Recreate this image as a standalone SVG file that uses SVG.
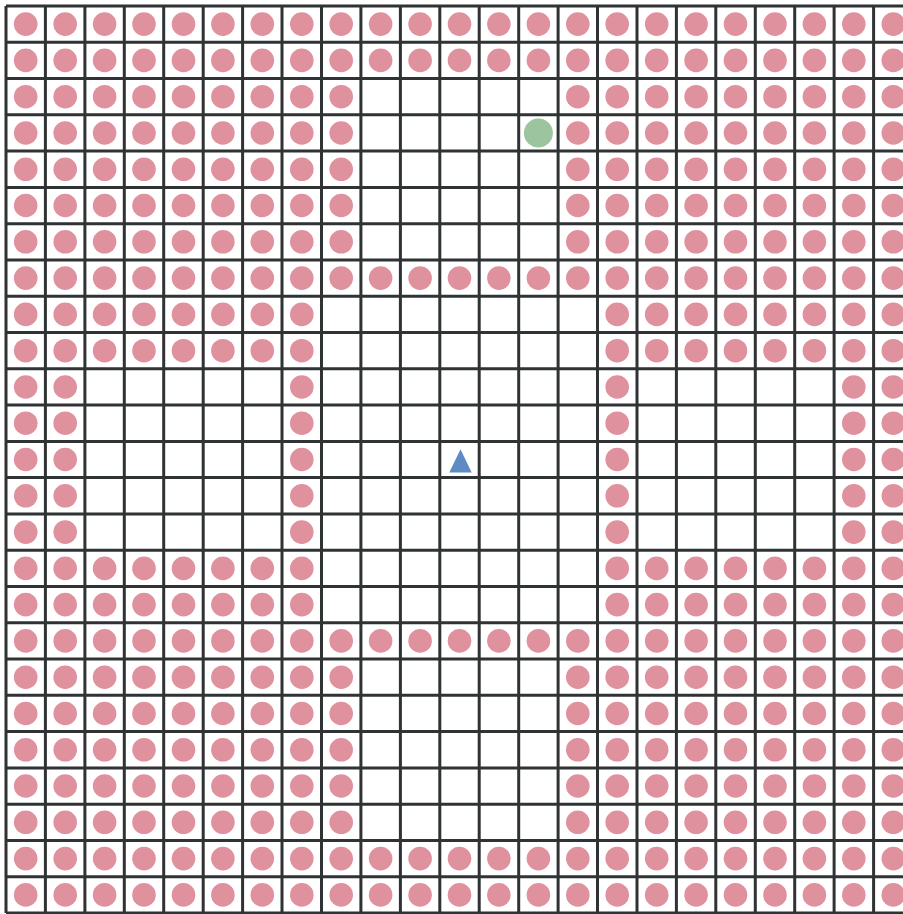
<svg xmlns="http://www.w3.org/2000/svg" xmlns:xlink="http://www.w3.org/1999/xlink" width="903" height="914" viewBox="0 0 903 914">
<style>
.pk{fill:#e0919e}
.grid{stroke:#2f3333;stroke-width:3;fill:none}
</style>
<defs>
<circle id="d" r="11.8" class="pk"/>
<g id="left9">
<use xlink:href="#d" x="25.7"/><use xlink:href="#d" x="65.2"/><use xlink:href="#d" x="104.6"/><use xlink:href="#d" x="144.0"/><use xlink:href="#d" x="183.5"/><use xlink:href="#d" x="222.9"/><use xlink:href="#d" x="262.3"/><use xlink:href="#d" x="301.8"/>
</g>
<g id="right8">
<use xlink:href="#d" x="617.2"/><use xlink:href="#d" x="656.7"/><use xlink:href="#d" x="696.1"/><use xlink:href="#d" x="735.5"/><use xlink:href="#d" x="775.0"/><use xlink:href="#d" x="814.4"/><use xlink:href="#d" x="853.8"/><use xlink:href="#d" x="893.3"/>
</g>
<g id="rowB"><use xlink:href="#left9"/><use xlink:href="#right8"/></g>
<g id="rowA"><use xlink:href="#rowB"/><use xlink:href="#d" x="341.2"/><use xlink:href="#d" x="577.8"/></g>
<g id="rowF"><use xlink:href="#rowA"/><use xlink:href="#d" x="380.6"/><use xlink:href="#d" x="420.1"/><use xlink:href="#d" x="459.5"/><use xlink:href="#d" x="498.9"/><use xlink:href="#d" x="538.4"/></g>
<g id="rowC"><use xlink:href="#d" x="25.7"/><use xlink:href="#d" x="65.2"/><use xlink:href="#d" x="301.8"/><use xlink:href="#d" x="617.2"/><use xlink:href="#d" x="853.8"/><use xlink:href="#d" x="893.3"/></g>
</defs>
<rect width="903" height="914" fill="#ffffff"/>
<g id="tokens">
<use xlink:href="#rowF" y="24.1"/>
<use xlink:href="#rowF" y="60.4"/>
<use xlink:href="#rowA" y="96.7"/>
<use xlink:href="#rowA" y="133.0"/>
<use xlink:href="#rowA" y="169.3"/>
<use xlink:href="#rowA" y="205.5"/>
<use xlink:href="#rowA" y="241.8"/>
<use xlink:href="#rowF" y="278.1"/>
<use xlink:href="#rowB" y="314.4"/>
<use xlink:href="#rowB" y="350.7"/>
<use xlink:href="#rowC" y="387.0"/>
<use xlink:href="#rowC" y="423.2"/>
<use xlink:href="#rowC" y="459.5"/>
<use xlink:href="#rowC" y="495.8"/>
<use xlink:href="#rowC" y="532.1"/>
<use xlink:href="#rowB" y="568.4"/>
<use xlink:href="#rowB" y="604.6"/>
<use xlink:href="#rowF" y="640.9"/>
<use xlink:href="#rowA" y="677.2"/>
<use xlink:href="#rowA" y="713.5"/>
<use xlink:href="#rowA" y="749.8"/>
<use xlink:href="#rowA" y="786.0"/>
<use xlink:href="#rowA" y="822.3"/>
<use xlink:href="#rowF" y="858.6"/>
<use xlink:href="#rowF" y="894.9"/>
</g>
<g id="goal"><circle cx="538.4" cy="133.0" r="14.5" fill="#9cc49f"/></g>
<g id="agent"><polygon points="460.5,449.3 449.3,472.5 471.7,472.5" fill="#5f8bc4"/></g>
<g id="connectors">
<path class="grid" d="M6,6V913M45.4,6V913M84.9,6V913M124.3,6V913M163.7,6V913M203.2,6V913M242.6,6V913M282,6V913M321.5,6V913M360.9,6V913M400.4,6V913M439.8,6V913M479.2,6V913M518.7,6V913M558.1,6V913M597.5,6V913M637,6V913M676.4,6V913M715.8,6V913M755.3,6V913M794.7,6V913M834.1,6V913M873.6,6V913"/>
<path class="grid" d="M6,6H913M6,42.3H913M6,78.6H913M6,114.8H913M6,151.1H913M6,187.4H913M6,223.7H913M6,260H913M6,296.2H913M6,332.5H913M6,368.8H913M6,405.1H913M6,441.4H913M6,477.6H913M6,513.9H913M6,550.2H913M6,586.5H913M6,622.8H913M6,659H913M6,695.3H913M6,731.6H913M6,767.9H913M6,804.2H913M6,840.4H913M6,876.7H913M6,913H913"/>
</g>
</svg>
